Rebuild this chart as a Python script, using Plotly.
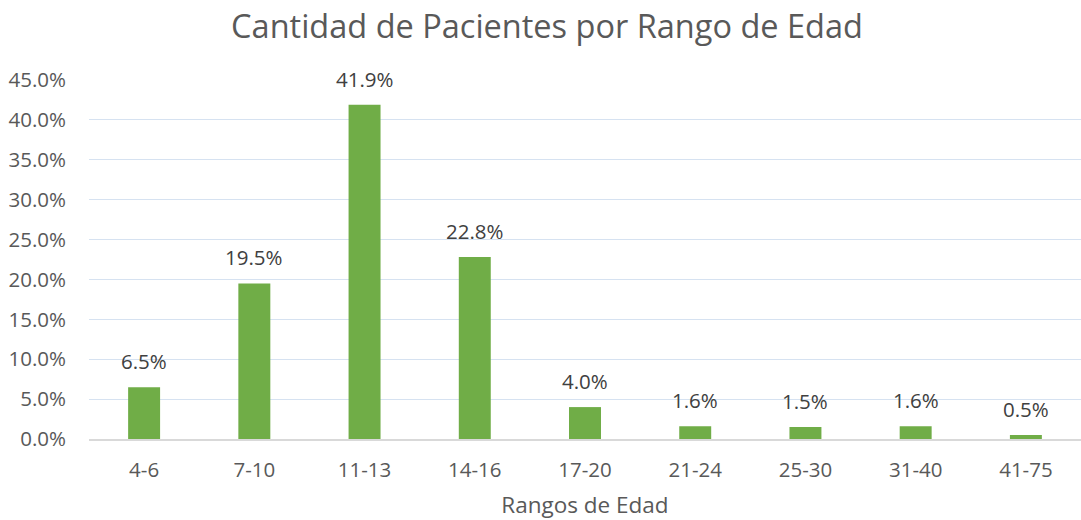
import plotly.graph_objects as go

categories = ["4-6", "7-10", "11-13", "14-16", "17-20", "21-24", "25-30", "31-40", "41-75"]
values = [6.5, 19.5, 41.9, 22.8, 4.0, 1.6, 1.5, 1.6, 0.5]
tick_vals = [0, 5, 10, 15, 20, 25, 30, 35, 40, 45]
tick_text = ["0.0%", "5.0%", "10.0%", "15.0%", "20.0%", "25.0%", "30.0%", "35.0%", "40.0%", "45.0%"]

font_family = "'Open Sans', sans-serif"
txt_color = "#595959"

fig = go.Figure(go.Bar(
    x=categories, y=values,
    marker=dict(color="#70AD47", line=dict(width=0)),
    hoverinfo="x+y",
))

for c, v in zip(categories, values):
    fig.add_annotation(x=c, y=v, text=f"{v:.1f}%", showarrow=False,
                       yanchor="bottom", yshift=10,
                       font=dict(size=20.5, color="#404040", family=font_family))

fig.update_layout(
    width=1081, height=520,
    paper_bgcolor="white", plot_bgcolor="white",
    margin=dict(l=89, r=0, t=80, b=81, autoexpand=False),
    bargap=0.71,
    showlegend=False,
    title=dict(text="Cantidad de Pacientes por Rango de Edad", x=0.506, xanchor="center",
               y=0.948, yanchor="middle",
               font=dict(size=32.5, color=txt_color, family=font_family)),
    font=dict(family=font_family, color=txt_color),
    xaxis=dict(title=dict(text="Rangos de Edad", font=dict(size=22.5, color=txt_color), standoff=20),
               tickfont=dict(size=20.5, color=txt_color),
               showline=True, linecolor="#D9D9D9", linewidth=1.5,
               ticks="", showgrid=False, automargin=False, ticklabelstandoff=12),
    yaxis=dict(range=[0, 45], tickvals=tick_vals, ticktext=tick_text,
               tickfont=dict(size=20.5, color=txt_color),
               showgrid=True, gridcolor="#D6E2F1", gridwidth=1,
               zeroline=False, showline=False, ticks="", automargin=False,
               ticklabelstandoff=22),
)

fig.write_html("out.html", config={"displayModeBar": False},
               post_script="document.body.style.margin='0';")
